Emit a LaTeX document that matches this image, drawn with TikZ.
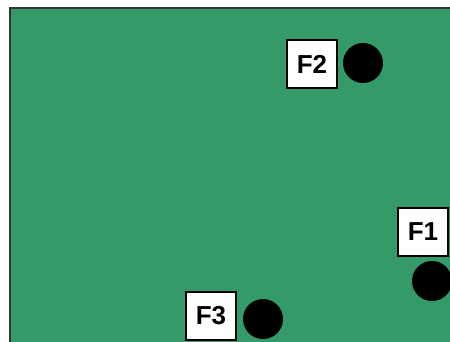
\documentclass[tikz,border=0pt]{standalone}
\usepackage{fontspec}
\setmainfont{Liberation Sans}
\definecolor{board}{RGB}{52,154,104}
\tikzset{
  lbl/.style={draw=black, line width=1.5pt, fill=white, minimum width=50pt, minimum height=48pt, inner sep=0pt, font=\fontsize{26pt}{26pt}\selectfont\bfseries},
  hole/.style={circle, fill=black, minimum size=40pt, inner sep=0pt}
}
\begin{document}
\begin{tikzpicture}[x=1pt,y=-1pt]
\useasboundingbox (0,0) rectangle (450,341);
\clip (0,0) rectangle (450,341);
\fill[white] (0,0) rectangle (450,341);
\draw[fill=board, draw=black!80, line width=1.2pt] (10,8) rectangle (460,350);
\node[lbl] (f2) at (312,64) {F2};
\node[hole] (h2) at (363,63) {};
\node[lbl] (f1) at (423,232) {F1};
\node[hole] (h1) at (432,281) {};
\node[lbl] (f3) at (211,316) {F3};
\node[hole] (h3) at (263,319) {};
\end{tikzpicture}
\end{document}
